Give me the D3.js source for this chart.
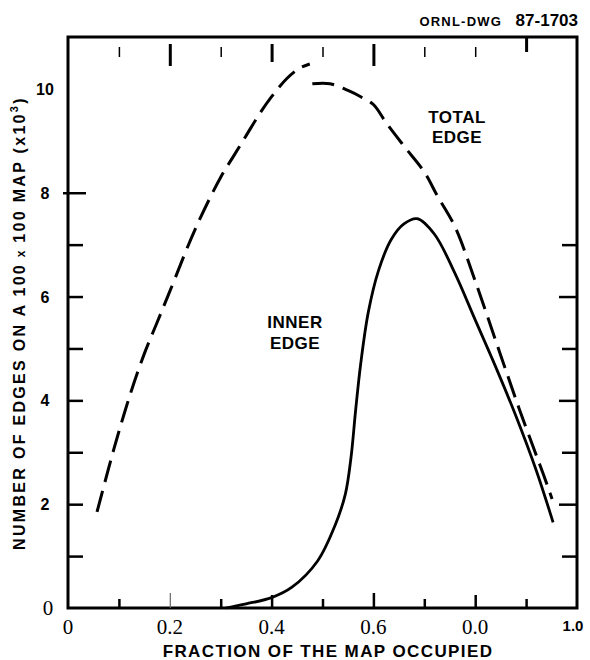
<!DOCTYPE html>
<html>
<head>
<meta charset="utf-8">
<script src="https://cdn.jsdelivr.net/npm/d3@7"></script>
<style>
  body { margin: 0; background: #fff; }
  .sans { font-family: "Liberation Sans", Arial, sans-serif; font-weight: 700; }
  .serif { font-family: "Liberation Serif", "Times New Roman", serif; }
</style>
</head>
<body>
<div id="chart"></div>
<script>
// total edge, drawn as two hand-drawn pieces meeting near the top
var totalRiseX = [0.057, 0.08, 0.10, 0.125, 0.15, 0.175, 0.20, 0.25, 0.30, 0.325, 0.35, 0.375, 0.40, 0.43, 0.455, 0.475];
var totalRiseY = [1.85, 2.7, 3.4, 4.2, 4.9, 5.5, 6.1, 7.3, 8.3, 8.7, 9.1, 9.5, 9.85, 10.2, 10.4, 10.48];
var totalFallX = [0.48, 0.515, 0.55, 0.575, 0.60, 0.625, 0.66, 0.70, 0.725, 0.76, 0.80, 0.849, 0.886, 0.914, 0.933, 0.951];
var totalFallY = [10.1, 10.1, 9.97, 9.85, 9.7, 9.35, 8.9, 8.4, 7.95, 7.35, 6.3, 4.9, 3.85, 3.1, 2.6, 2.1];

// inner edge
var innerX = [0.31, 0.35, 0.40, 0.44, 0.49, 0.525, 0.545, 0.556, 0.565, 0.575, 0.59, 0.61, 0.635, 0.66, 0.686, 0.72, 0.76, 0.80, 0.84, 0.88, 0.92, 0.953];
var innerY = [0.0, 0.08, 0.2, 0.4, 0.9, 1.6, 2.2, 2.9, 3.8, 4.7, 5.7, 6.5, 7.1, 7.4, 7.5, 7.2, 6.45, 5.55, 4.65, 3.7, 2.65, 1.65];

var xMinorTicks = [0.1, 0.2, 0.3, 0.4, 0.5, 0.6, 0.7, 0.8, 0.9];
var xLabelValues = [0, 0.2, 0.4, 0.6, 0.8, 1.0];
var xLabelTexts = ['0', '0.2', '0.4', '0.6', '0.0', '1.0'];
var yLeftTicks = [1, 2, 3, 4, 5, 6, 7, 8];
var yRightTicks = [1, 2, 3, 4, 5, 6, 7];
var yLabelValues = [2, 4, 6, 8, 10];

var width = 590, height = 660;
var x = d3.scaleLinear().domain([0, 1]).range([68, 577]);
var y = d3.scaleLinear().domain([0, 11]).range([608, 37]);

var svg = d3.select('#chart').append('svg')
  .attr('width', width)
  .attr('height', height);

function zip(xs, ys) {
  return xs.map(function(v, i) { return [v, ys[i]]; });
}

// frame
svg.append('rect')
  .attr('x', x(0)).attr('y', y(11))
  .attr('width', x(1) - x(0)).attr('height', y(0) - y(11))
  .attr('fill', 'none').attr('stroke', '#000').attr('stroke-width', 3);

// bottom ticks
var bottomAxis = d3.axisBottom(x).tickValues(xMinorTicks).tickFormat('').tickSize(0);
var gb = svg.append('g').attr('transform', 'translate(0,' + y(0) + ')').call(bottomAxis);
gb.select('.domain').remove();
gb.selectAll('.tick line')
  .attr('y2', function(d) {
    var k = Math.round(d * 10);
    return k === 2 || k === 6 ? -15 : (k === 4 || k === 8 ? -13 : -9);
  })
  .attr('stroke', function(d) { return Math.round(d * 10) === 2 ? '#666' : '#000'; })
  .attr('stroke-width', function(d) { return Math.round(d * 10) === 2 ? 1.2 : 2.5; });

// top ticks (floating a little below the frame, as on the drawing)
var topAxis = d3.axisTop(x).tickValues(xMinorTicks).tickFormat('').tickSize(0);
var gt = svg.append('g').attr('transform', 'translate(0,' + y(11) + ')').call(topAxis);
gt.select('.domain').remove();
gt.selectAll('.tick line')
  .attr('y1', function(d) {
    var k = Math.round(d * 10);
    return k === 9 ? 0 : (k === 2 || k === 4 || k === 6 ? 7 : 10);
  })
  .attr('y2', function(d) {
    var k = Math.round(d * 10);
    return k === 9 ? 15 : (k === 2 || k === 6 ? 29 : (k === 4 ? 25 : 20));
  })
  .attr('stroke', '#000')
  .attr('stroke-width', function(d) {
    var k = Math.round(d * 10);
    return k === 2 || k === 4 || k === 6 || k === 9 ? 3 : 1.5;
  });

// left ticks
var leftAxis = d3.axisLeft(y).tickValues(yLeftTicks).tickFormat('').tickSize(0);
var gl = svg.append('g').attr('transform', 'translate(' + x(0) + ',0)').call(leftAxis);
gl.select('.domain').remove();
gl.selectAll('.tick line')
  .attr('x1', function(d) { return d === 8 ? -5 : 0; })
  .attr('x2', function(d) { return d === 8 ? 18 : 15; })
  .attr('stroke', '#000').attr('stroke-width', 2.5);

// right ticks
var rightAxis = d3.axisRight(y).tickValues(yRightTicks).tickFormat('').tickSize(0);
var gr = svg.append('g').attr('transform', 'translate(' + x(1) + ',0)').call(rightAxis);
gr.select('.domain').remove();
gr.selectAll('.tick line')
  .attr('x2', function(d) { return d % 2 === 0 ? -18 : -15; })
  .attr('stroke', '#000').attr('stroke-width', 2.5);

// curves
var line = d3.line()
  .x(function(d) { return x(d[0]); })
  .y(function(d) { return y(d[1]); })
  .curve(d3.curveCatmullRom.alpha(0.5));

[zip(totalRiseX, totalRiseY), zip(totalFallX, totalFallY)].forEach(function(pts) {
  svg.append('path')
    .attr('d', line(pts))
    .attr('fill', 'none')
    .attr('stroke', '#000')
    .attr('stroke-width', 3)
    .attr('stroke-dasharray', '22,9');
});

svg.append('path')
  .attr('d', line(zip(innerX, innerY)))
  .attr('fill', 'none')
  .attr('stroke', '#000')
  .attr('stroke-width', 2.8);

// x labels
svg.selectAll('.xlab')
  .data(xLabelValues)
  .enter().append('text')
  .attr('class', function(d, i) { return i === xLabelValues.length - 1 ? 'sans' : 'serif'; })
  .attr('x', function(d, i) { return i === xLabelValues.length - 1 ? x(d) - 4 : x(d); })
  .attr('y', function(d, i) { return i === xLabelValues.length - 1 ? 631 : 634; })
  .attr('text-anchor', 'middle')
  .attr('font-size', function(d, i) { return i === xLabelValues.length - 1 ? 15 : 21; })
  .text(function(d, i) { return xLabelTexts[i]; });

svg.append('text')
  .attr('class', 'sans')
  .attr('x', 328)
  .attr('y', 657)
  .attr('text-anchor', 'middle')
  .attr('font-size', 17)
  .attr('letter-spacing', 1.4)
  .text('FRACTION OF THE MAP OCCUPIED');

// y labels
svg.selectAll('.ylab')
  .data(yLabelValues)
  .enter().append('text')
  .attr('class', 'sans')
  .attr('x', 45)
  .attr('y', function(d) { return y(d) + 6; })
  .attr('text-anchor', 'middle')
  .attr('font-size', 16)
  .text(function(d) { return d; });

svg.append('text')
  .attr('class', 'serif')
  .attr('x', 48)
  .attr('y', y(0) + 7)
  .attr('text-anchor', 'middle')
  .attr('font-size', 21)
  .text('0');

var yTitle = svg.append('text')
  .attr('class', 'sans')
  .attr('transform', 'translate(25,323) rotate(-90)')
  .attr('text-anchor', 'middle')
  .attr('font-size', 16)
  .attr('letter-spacing', 2.3);
yTitle.append('tspan').text('NUMBER OF EDGES ON A 100');
yTitle.append('tspan').attr('font-size', 12).text(' x ');
yTitle.append('tspan').text('100 MAP (x10');
yTitle.append('tspan').attr('font-size', 11).attr('dy', -7).text('3');
yTitle.append('tspan').attr('dy', 7).text(')');

// curve labels
svg.append('text').attr('class', 'sans')
  .attr('x', 457).attr('y', 123).attr('text-anchor', 'middle')
  .attr('font-size', 17).attr('letter-spacing', 0.5).text('TOTAL');
svg.append('text').attr('class', 'sans')
  .attr('x', 457).attr('y', 143).attr('text-anchor', 'middle')
  .attr('font-size', 17).attr('letter-spacing', 0.5).text('EDGE');
svg.append('text').attr('class', 'sans')
  .attr('x', 295).attr('y', 328).attr('text-anchor', 'middle')
  .attr('font-size', 17).attr('letter-spacing', 0.5).text('INNER');
svg.append('text').attr('class', 'sans')
  .attr('x', 295).attr('y', 349).attr('text-anchor', 'middle')
  .attr('font-size', 17).attr('letter-spacing', 0.5).text('EDGE');

// drawing number
svg.append('text').attr('class', 'sans')
  .attr('x', 502).attr('y', 26).attr('text-anchor', 'end')
  .attr('font-size', 13).attr('letter-spacing', 1.2).text('ORNL-DWG');
svg.append('text').attr('class', 'sans')
  .attr('x', 578).attr('y', 26).attr('text-anchor', 'end')
  .attr('font-size', 17).text('87-1703');
</script>
</body>
</html>
